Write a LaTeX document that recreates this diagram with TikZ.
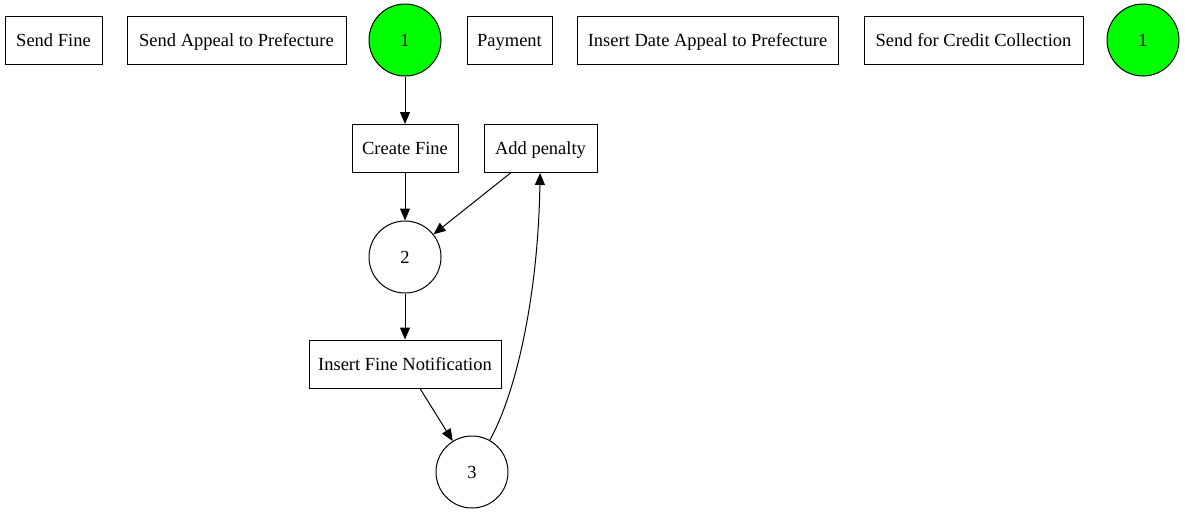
\documentclass[tikz,border=0pt]{standalone}
\usepackage{fontspec}
\setmainfont{Liberation Serif}
\usetikzlibrary{arrows.meta}
\begin{document}
\begin{tikzpicture}[x=1pt,y=-1pt,
  trans/.style={draw,line width=1pt,rectangle,minimum height=48pt,inner sep=0pt,text height=12.2pt,text depth=0pt,font=\fontsize{18.5}{21}\selectfont},
  place/.style={draw,line width=1pt,circle,minimum size=72pt,inner sep=0pt,text height=12.2pt,text depth=0pt,font=\fontsize{18.5}{21}\selectfont},
  token/.style={place,fill=green},
  arc/.style={line width=1pt,-{Triangle[length=12pt,width=10pt]}}]
\useasboundingbox (0,0) rectangle (1185,515);
\node[trans,minimum width=97pt] (sf) at (53.5,40.5) {Send Fine};
\node[trans,minimum width=219pt] (sap) at (236.5,40.5) {Send Appeal to Prefecture};
\node[token] (p1) at (405,40) {1};
\node[trans,minimum width=85pt] (pay) at (509.5,40.5) {Payment};
\node[trans,minimum width=261pt] (idap) at (707.5,40.5) {Insert Date Appeal to Prefecture};
\node[trans,minimum width=219pt] (scc) at (973.5,40.5) {Send for Credit Collection};
\node[token] (p1b) at (1143,40) {1};
\node[trans,minimum width=106pt] (cf) at (405,148.5) {Create Fine};
\node[trans,minimum width=113pt] (ap) at (540.5,148.5) {Add penalty};
\node[place] (p2) at (405,257) {2};
\node[trans,minimum width=192pt] (ifn) at (405,364) {Insert Fine Notification};
\node[place] (p3) at (472,472) {3};
\draw[arc] (p1) -- (cf);
\draw[arc] (cf) -- (p2);
\draw[arc] (ap.south west) ++(27,0) coordinate (apo) (apo) -- (p2);
\draw[arc] (p2) -- (ifn);
\draw[arc] (ifn.south) ++(15,0) coordinate (ifo) (ifo) -- (p3);
\draw[arc] (p3) .. controls (515,395) and (538,300) .. (ap);
\end{tikzpicture}
\end{document}
